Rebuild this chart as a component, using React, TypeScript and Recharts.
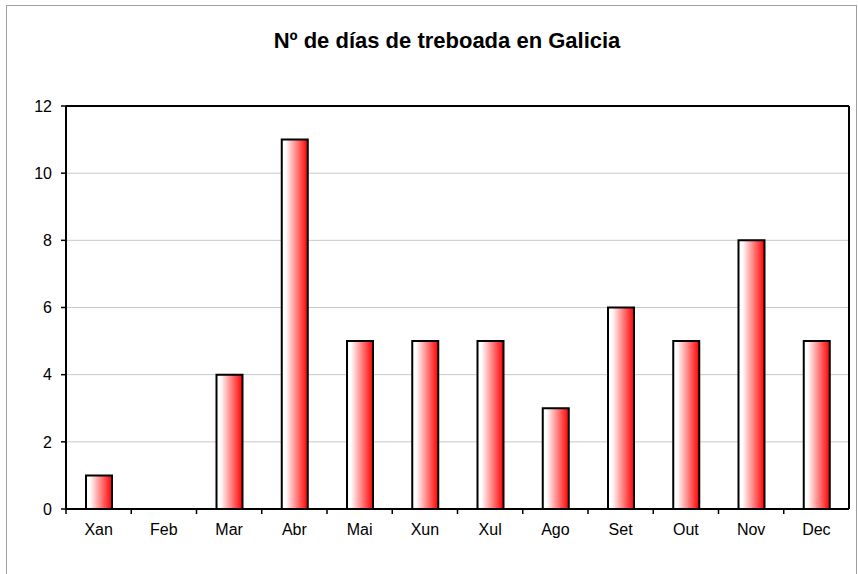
import React from "react";
import { BarChart, Bar, XAxis, YAxis, CartesianGrid } from "recharts";

const months = ["Xan", "Feb", "Mar", "Abr", "Mai", "Xun", "Xul", "Ago", "Set", "Out", "Nov", "Dec"];
const days = [1, 0, 4, 11, 5, 5, 5, 3, 6, 5, 8, 5];
const yTicks = [0, 2, 4, 6, 8, 10, 12];
const title = "Nº de días de treboada en Galicia";

const data = months.map((m, i) => ({ month: m, days: days[i] }));

const FONT = "'Liberation Sans', Arial, sans-serif";

const MonthTick = (props: any) => {
  const { x, y, payload } = props;
  const half = payload && payload.offset ? payload.offset : 0;
  return (
    <g>
      <line x1={x - half} y1={y - 9} x2={x - half} y2={y - 3} stroke="#000" strokeWidth={1.5} />
      <text x={x} y={y} dy={18} textAnchor="middle" fill="#000" fontSize={16} fontFamily={FONT}>
        {payload.value}
      </text>
    </g>
  );
};

export default function App() {
  return (
    <div style={{ position: "absolute", left: 0, top: 0, width: 858, height: 574, overflow: "hidden", background: "#fff" }}>
      <div style={{ position: "absolute", left: 6, top: 5, width: 849, height: 600, border: "1px solid #a0a0a0" }} />
      <div
        style={{
          position: "absolute",
          left: 0,
          top: 28,
          width: 894,
          textAlign: "center",
          fontFamily: FONT,
          fontWeight: "bold",
          fontSize: 22,
          color: "#000",
        }}
      >
        {title}
      </div>
      <div style={{ position: "absolute", left: 0, top: 0 }}>
        <BarChart width={858} height={574} data={data} margin={{ top: 105, right: 8, left: 36, bottom: 35 }} barCategoryGap={0}>
          <defs>
            <linearGradient id="barGrad" x1="0" y1="0" x2="1" y2="0">
              <stop offset="0%" stopColor="#ffffff" />
              <stop offset="15%" stopColor="#ffffff" />
              <stop offset="100%" stopColor="#ff0000" />
            </linearGradient>
          </defs>
          <CartesianGrid vertical={false} horizontal={true} stroke="#c8c8c8" strokeWidth={1} />
          <XAxis
            dataKey="month"
            height={30}
            axisLine={{ stroke: "#000", strokeWidth: 2 }}
            tickLine={false}
            tick={<MonthTick />}
            interval={0}
          />
          <XAxis
            xAxisId="top"
            dataKey="month"
            orientation="top"
            height={1}
            axisLine={{ stroke: "#000", strokeWidth: 2 }}
            tick={false}
            tickLine={false}
          />
          <YAxis
            domain={[0, 12]}
            ticks={yTicks}
            width={30}
            axisLine={{ stroke: "#000", strokeWidth: 2 }}
            tickLine={{ stroke: "#000", strokeWidth: 1.5 }}
            tickSize={5}
            tickMargin={9}
            tick={{ fill: "#000", fontSize: 16, fontFamily: FONT }}
            interval={0}
          />
          <YAxis
            yAxisId="right"
            orientation="right"
            domain={[0, 12]}
            width={1}
            axisLine={{ stroke: "#000", strokeWidth: 2 }}
            tick={false}
            tickLine={false}
          />
          <Bar dataKey="days" fill="url(#barGrad)" stroke="#000" strokeWidth={2} barSize={26} isAnimationActive={false} />
        </BarChart>
      </div>
    </div>
  );
}
